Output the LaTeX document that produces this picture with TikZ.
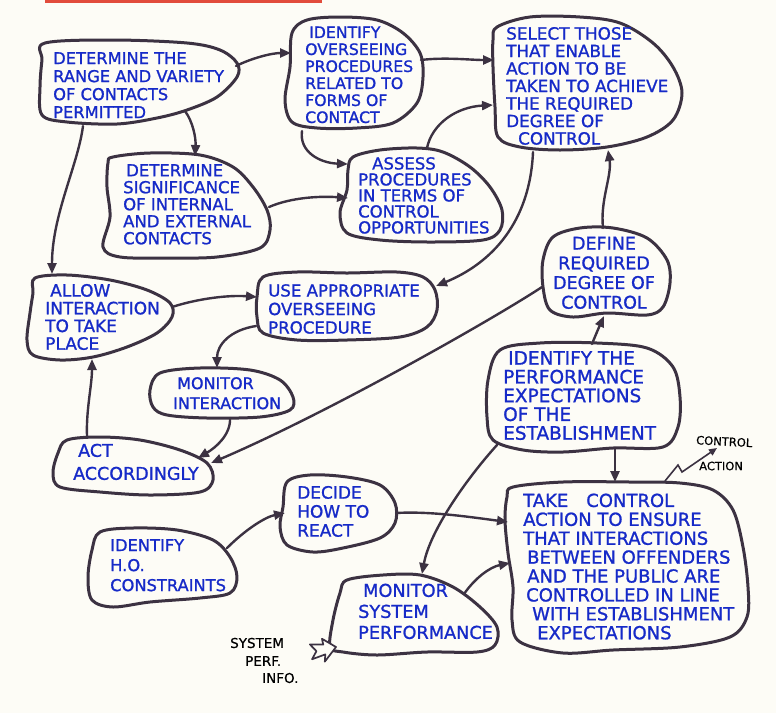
\documentclass[tikz,border=0pt]{standalone}
\usepackage{fontspec}
\newfontfamily\handfont{DejaVu Sans}[FakeBold=1.1]
\newfontfamily\notefont{DejaVu Sans}[FakeBold=0.6]
\usetikzlibrary{arrows.meta,shapes.arrows}
\definecolor{ink}{RGB}{60,50,66}
\definecolor{pen}{RGB}{22,42,200}
\definecolor{paper}{RGB}{253,252,246}
\definecolor{redbar}{RGB}{226,76,60}
\newcommand\handsize[2]{\fontsize{#1}{#2}\selectfont}
\tikzset{
  blob/.style={draw=ink, line width=3pt, line join=round},
  conn/.style={draw=ink, line width=2.4pt, line cap=round, -{Triangle[length=11pt,width=9pt]}},
  zig/.style={draw=ink, line width=1.6pt, line join=miter, -{Triangle[length=8pt,width=7pt]}},
  lbl/.style={text=pen, inner sep=0pt, align=left, anchor=north west},
  note/.style={text=black, inner sep=0pt, anchor=west},
  hollow/.style={draw=ink, line width=1.7pt, line join=round, fill=paper}
}
\begin{document}
\begin{tikzpicture}[x=1pt,y=-1pt]
\fill[paper] (0,0) rectangle (776,713);
\useasboundingbox (0,0) rectangle (776,713);
\fill[redbar] (45,0) rectangle (322,2.5);

% blobs
\draw[blob] plot[smooth cycle, tension=0.55] coordinates {(45,43) (113,40) (187,43) (220,50) (237,63) (237,77) (217,97) (187,110) (157,118) (117,124) (67,122) (42,115) (40,87) (42,60)};
\draw[blob] plot[smooth cycle, tension=0.55] coordinates {(307,20) (340,17) (377,20) (403,33) (420,53) (423,77) (417,103) (393,123) (357,128) (317,128) (292,122) (285,100) (290,67) (292,33)};
\draw[blob] plot[smooth cycle, tension=0.55] coordinates {(497,27) (530,17) (580,17) (620,23) (653,43) (673,67) (682,93) (673,120) (647,137) (607,147) (560,150) (520,147) (498,137) (495,107) (493,67) (493,40)};
\draw[blob] plot[smooth cycle, tension=0.55] coordinates {(113,157) (150,153) (200,155) (233,167) (253,187) (267,210) (270,230) (260,248) (217,257) (167,258) (120,257) (103,247) (110,217) (107,187) (108,163)};
\draw[blob] plot[smooth cycle, tension=0.55] coordinates {(353,157) (380,150) (417,148) (443,152) (470,167) (490,187) (502,210) (500,230) (483,240) (430,242) (380,240) (347,233) (340,213) (347,190) (348,170)};
\draw[blob] plot[smooth cycle, tension=0.55] coordinates {(35,278) (67,275) (110,280) (147,290) (170,303) (172,317) (157,333) (127,347) (93,357) (60,360) (33,355) (27,340) (30,313) (33,293)};
\draw[blob] plot[smooth cycle, tension=0.55] coordinates {(263,277) (297,272) (347,273) (397,272) (423,277) (435,290) (437,310) (427,327) (400,337) (347,340) (297,340) (263,333) (257,317) (257,297)};
\draw[blob] plot[smooth cycle, tension=0.55] coordinates {(160,373) (200,368) (250,370) (280,380) (293,397) (290,410) (260,417) (207,418) (167,415) (153,407) (150,390)};
\draw[blob] plot[smooth cycle, tension=0.55] coordinates {(67,440) (100,437) (140,440) (180,450) (207,463) (213,480) (200,492) (150,495) (100,492) (60,487) (53,473) (58,453)};
\draw[blob] plot[smooth cycle, tension=0.55] coordinates {(553,237) (580,228) (613,228) (647,238) (667,260) (670,283) (663,307) (647,315) (607,313) (573,317) (550,310) (543,287) (543,260)};
\draw[blob] plot[smooth cycle, tension=0.55] coordinates {(500,350) (540,343) (597,343) (647,348) (673,367) (680,397) (678,427) (663,447) (613,448) (563,452) (523,450) (493,440) (487,417) (488,380)};
\draw[blob] plot[smooth cycle, tension=0.55] coordinates {(513,487) (563,482) (630,482) (680,483) (713,490) (733,510) (743,547) (748,587) (747,617) (730,637) (680,647) (613,650) (563,653) (520,642) (512,620) (513,587) (508,553) (505,520) (507,497)};
\draw[blob] plot[smooth cycle, tension=0.55] coordinates {(287,482) (310,475) (347,477) (380,485) (395,503) (395,523) (380,538) (343,548) (313,552) (287,545) (280,527) (283,507)};
\draw[blob] plot[smooth cycle, tension=0.55] coordinates {(100,532) (133,528) (177,530) (213,540) (230,557) (237,577) (230,593) (200,598) (150,602) (113,607) (92,600) (88,577) (92,550)};
\draw[blob] plot[smooth cycle, tension=0.55] coordinates {(347,580) (383,575) (420,575) (453,587) (480,607) (497,627) (495,645) (477,652) (427,652) (377,655) (343,652) (330,647) (333,620) (340,593)};

% texts
\node[lbl, font=\handfont\handsize{16.3}{18}] (t1) at (53,52) {DETERMINE THE\\RANGE AND VARIETY\\OF CONTACTS\\PERMITTED};
\node[lbl, font=\handfont\handsize{15.7}{17}] (t2) at (305,26.3) {\hspace*{4pt}IDENTIFY\\OVERSEEING\\PROCEDURES\\RELATED TO\\FORMS OF\\CONTACT};
\node[lbl, font=\handfont\handsize{16.8}{17.5}] (t3) at (506,26.9) {SELECT THOSE\\THAT ENABLE\\ACTION TO BE\\TAKEN TO ACHIEVE\\THE REQUIRED\\DEGREE OF\\\hspace*{12pt}CONTROL};
\node[lbl, font=\handfont\handsize{16.5}{17}] (t4) at (123,164) {\hspace*{3pt}DETERMINE\\SIGNIFICANCE\\OF INTERNAL\\AND EXTERNAL\\CONTACTS};
\node[lbl, font=\handfont\handsize{16.5}{16}] (t5) at (358,157) {\hspace*{14pt}ASSESS\\PROCEDURES\\IN TERMS OF\\CONTROL\\OPPORTUNITIES};
\node[lbl, font=\handfont\handsize{17}{17.7}] (t6) at (45,283.8) {\hspace*{5pt}ALLOW\\INTERACTION\\TO TAKE\\PLACE};
\node[lbl, font=\handfont\handsize{16.6}{18.5}] (t7) at (268,284) {USE APPROPRIATE\\OVERSEEING\\PROCEDURE};
\node[lbl, font=\handfont\handsize{16}{20}] (t8) at (173,377) {\hspace*{4pt}MONITOR\\INTERACTION};
\node[lbl, font=\handfont\handsize{17.5}{23}] (t9) at (73,443.6) {\hspace*{5pt}ACT\\ACCORDINGLY};
\node[lbl, align=center, anchor=north, font=\handfont\handsize{17.5}{19.7}] (t10) at (604,236.6) {DEFINE\\REQUIRED\\DEGREE OF\\CONTROL};
\node[lbl, font=\handfont\handsize{18.5}{18.75}] (t11) at (503,351) {\hspace*{5pt}IDENTIFY THE\\PERFORMANCE\\EXPECTATIONS\\OF THE\\ESTABLISHMENT};
\node[lbl, font=\handfont\handsize{18}{18.9}] (t12) at (523,493.4) {TAKE\quad CONTROL\\ACTION TO ENSURE\\THAT INTERACTIONS\\\hspace*{4pt}BETWEEN OFFENDERS\\\hspace*{4pt}AND THE PUBLIC ARE\\\hspace*{3pt}CONTROLLED IN LINE\\\hspace*{9pt}WITH ESTABLISHMENT\\\hspace*{14pt}EXPECTATIONS};
\node[lbl, font=\handfont\handsize{17}{19}] (t13) at (297,485.8) {DECIDE\\HOW TO\\REACT};
\node[lbl, font=\handfont\handsize{16.3}{20}] (t14) at (110,539) {IDENTIFY\\H.O.\\CONSTRAINTS};
\node[lbl, font=\handfont\handsize{17.7}{21}] (t15) at (358,583.5) {\hspace*{5pt}MONITOR\\SYSTEM\\PERFORMANCE};

% notes
\node[note, font=\notefont\handsize{11.5}{12}, rotate=-3] (ctl) at (696,440) {CONTROL};
\node[note, font=\notefont\handsize{11.5}{12}] (act) at (699,466) {ACTION};
\node[note, font=\notefont\handsize{13.5}{14}] (sys) at (230,643) {SYSTEM};
\node[note, font=\notefont\handsize{13.5}{14}] (perf) at (245,661) {PERF.};
\node[note, font=\notefont\handsize{13.5}{14}] (info) at (262,678) {INFO.};

% hollow input arrow
\begin{scope}[shift={(336,647)}, rotate=12]
\draw[hollow] (0,0) -- (-12,-11) -- (-12,-5) -- (-25,-8) -- (-20,0) -- (-26,7) -- (-12,5) -- (-14,12) -- cycle;
\end{scope}

% connector end points
\coordinate (a1) at (236,66);  \coordinate (a2) at (291,53);
\coordinate (b1) at (185,111); \coordinate (b2) at (195,156);
\coordinate (c1) at (83,126);  \coordinate (c2) at (52,274);
\coordinate (d1) at (302,131); \coordinate (d2) at (348,164);
\coordinate (e1) at (269,207); \coordinate (e2) at (348,198);
\coordinate (f1) at (421,60);  \coordinate (f2) at (494,60);
\coordinate (g1) at (427,148); \coordinate (g2) at (493,105);
\coordinate (h1) at (533,152); \coordinate (h2) at (436,286);
\coordinate (i1) at (603,228); \coordinate (i2) at (608,150);
\coordinate (j1) at (592,344); \coordinate (j2) at (604,316);
\coordinate (k1) at (542,287); \coordinate (k2) at (211,463);
\coordinate (l1) at (172,307); \coordinate (l2) at (257,297);
\coordinate (m1) at (256,326); \coordinate (m2) at (217,368);
\coordinate (n1) at (230,418); \coordinate (n2) at (198,458);
\coordinate (o1) at (87,436);  \coordinate (o2) at (92,359);
\coordinate (p1) at (227,548); \coordinate (p2) at (285,513);
\coordinate (q1) at (396,513); \coordinate (q2) at (508,522);
\coordinate (r1) at (497,445); \coordinate (r2) at (422,574);
\coordinate (s1) at (464,594); \coordinate (s2) at (510,563);
\coordinate (u1) at (615,448); \coordinate (u2) at (615,482);
\coordinate (z0) at (665,481); \coordinate (z3) at (717,448);

\draw[conn] (a1) .. controls (252,58) and (272,53) .. (a2);
\draw[conn] (b1) .. controls (193,122) and (196,138) .. (b2);
\draw[conn] (c1) .. controls (78,165) and (52,215) .. (c2);
\draw[conn] (d1) .. controls (299,152) and (320,163) .. (d2);
\draw[conn] (e1) .. controls (292,197) and (322,196) .. (e2);
\draw[conn] (f1) .. controls (445,57) and (470,60) .. (f2);
\draw[conn] (g1) .. controls (432,124) and (456,107) .. (g2);
\draw[conn] (h1) .. controls (530,222) and (492,263) .. (h2);
\draw[conn] (i1) .. controls (600,200) and (612,176) .. (i2);
\draw[conn] (j1) .. controls (596,334) and (600,325) .. (j2);
\draw[conn] (k1) .. controls (495,318) and (330,412) .. (k2);
\draw[conn] (l1) .. controls (200,298) and (230,295) .. (l2);
\draw[conn] (m1) .. controls (230,330) and (217,345) .. (m2);
\draw[conn] (n1) .. controls (231,435) and (215,448) .. (n2);
\draw[conn] (o1) .. controls (86,410) and (92,385) .. (o2);
\draw[conn] (p1) .. controls (245,530) and (265,517) .. (p2);
\draw[conn] (q1) .. controls (430,511) and (470,517) .. (q2);
\draw[conn] (r1) .. controls (468,477) and (430,530) .. (r2);
\draw[conn] (s1) .. controls (475,578) and (490,567) .. (s2);
\draw[conn] (u1) -- (u2);
\draw[zig] (z0) -- (678,465) -- (682,472) -- (z3);
\end{tikzpicture}
\end{document}
